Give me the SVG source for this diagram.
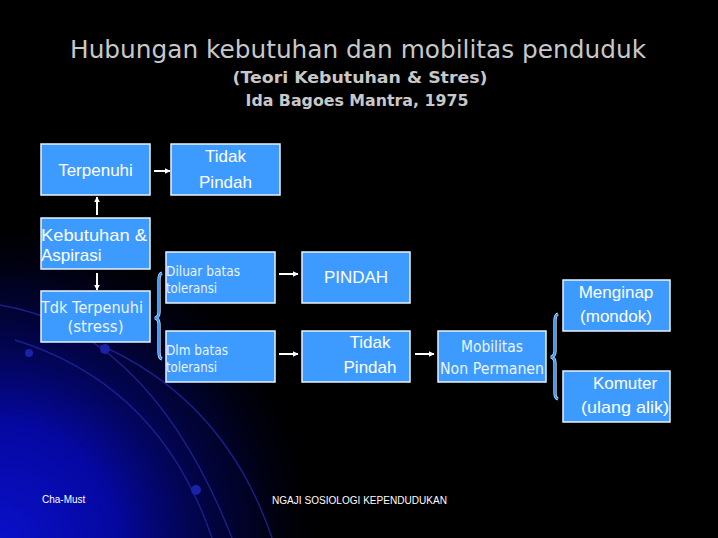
<svg xmlns="http://www.w3.org/2000/svg" width="718" height="538" viewBox="0 0 718 538">
<defs>
<radialGradient id="glow" cx="0" cy="538" r="330" gradientUnits="userSpaceOnUse">
<stop offset="0" stop-color="#0a10c8"/>
<stop offset="0.35" stop-color="#0508a0"/>
<stop offset="0.75" stop-color="#020440" stop-opacity="0.6"/>
<stop offset="1" stop-color="#000000" stop-opacity="0"/>
</radialGradient>
<marker id="ah" viewBox="0 0 10 10" refX="9" refY="5" markerWidth="6" markerHeight="6" orient="auto" markerUnits="userSpaceOnUse">
<path d="M0,0 L10,5 L0,10 z" fill="#ffffff"/>
</marker>
</defs>
<style>
.box{fill:#3d9bff;stroke:#e8f2ff;stroke-width:1.5}
.t{font-family:"Liberation Sans","DejaVu Sans",sans-serif;fill:#ffffff}
.tl{font-family:"DejaVu Sans","Liberation Sans",sans-serif;fill:#eaf4ff}
.hd{font-family:"DejaVu Sans","Liberation Sans",sans-serif;fill:#c8c8c8}
.arc{fill:none;stroke:#1a1f8a;stroke-width:1.4}
.con{stroke:#ffffff;stroke-width:2;fill:none;marker-end:url(#ah)}
.brace{fill:none;stroke:#3d9bff;stroke-width:2}
.braceo{fill:none;stroke:#e8f2ff;stroke-width:3.2}
.foot{font-family:"Liberation Sans",sans-serif;fill:#ffffff;font-size:10px}
</style>
<rect width="718" height="538" fill="#000000"/>
<rect width="718" height="538" fill="url(#glow)"/>
<path class="arc" d="M0 305 Q150 330 232 538"/>
<path class="arc" d="M15 340 Q160 385 212 538"/>
<path class="arc" d="M100 345 Q225 400 272 538"/>
<circle cx="29" cy="353" r="4" fill="#1a22a8"/>
<circle cx="105" cy="349" r="5" fill="#1a22a8"/>
<circle cx="196" cy="490" r="5" fill="#1a22a8"/>

<text class="hd" x="358" y="58" font-size="25" text-anchor="middle" textLength="576" lengthAdjust="spacingAndGlyphs">Hubungan kebutuhan dan mobilitas  penduduk</text>
<text class="hd" x="360" y="83" font-size="16" font-weight="bold" text-anchor="middle" textLength="255" lengthAdjust="spacingAndGlyphs">(Teori Kebutuhan &amp; Stres)</text>
<text class="hd" x="357" y="106" font-size="16" font-weight="bold" text-anchor="middle" textLength="223" lengthAdjust="spacingAndGlyphs">Ida Bagoes Mantra, 1975</text>

<g id="connectors">
<line class="con" x1="154" y1="171" x2="170" y2="171"/>
<line class="con" x1="97" y1="215" x2="97" y2="197"/>
<line class="con" x1="97" y1="273" x2="97" y2="290"/>
<line class="con" x1="279" y1="274" x2="298" y2="274"/>
<line class="con" x1="279" y1="354" x2="298" y2="354"/>
<line class="con" x1="415" y1="354" x2="434" y2="354"/>
<path class="braceo" d="M162 273 Q159 274 159 280 L159 312 Q159 317 155 318 Q159 319 159 324 L159 352 Q159 358 162 359"/>
<path class="brace" d="M162 273 Q159 274 159 280 L159 312 Q159 317 155 318 Q159 319 159 324 L159 352 Q159 358 162 359"/>
<path class="braceo" d="M558 314 Q555 315 555 321 L555 351 Q555 356 551 357 Q555 358 555 363 L555 393 Q555 398 558 399"/>
<path class="brace" d="M558 314 Q555 315 555 321 L555 351 Q555 356 551 357 Q555 358 555 363 L555 393 Q555 398 558 399"/>
</g>

<g id="terpenuhi"><rect class="box" x="41" y="144" width="109" height="51"/>
<text class="t" x="95.5" y="176" font-size="17" text-anchor="middle">Terpenuhi</text></g>
<g id="tidak-pindah-1"><rect class="box" x="171" y="144" width="109" height="51"/>
<text class="t" x="225.5" y="162" font-size="17" text-anchor="middle">Tidak</text>
<text class="t" x="225.5" y="188" font-size="17" text-anchor="middle">Pindah</text></g>
<g id="kebutuhan"><rect class="box" x="41" y="218" width="109" height="51"/>
<text class="t" x="41" y="241" font-size="17" textLength="106" lengthAdjust="spacingAndGlyphs">Kebutuhan &amp;</text>
<text class="t" x="41" y="261" font-size="17">Aspirasi</text></g>
<g id="tdk-terpenuhi"><rect class="box" x="41" y="291" width="109" height="51"/>
<text class="tl" x="41" y="313" font-size="15" textLength="102" lengthAdjust="spacingAndGlyphs">Tdk Terpenuhi</text>
<text class="tl" x="95.5" y="332" font-size="15" text-anchor="middle">(stress)</text></g>
<g id="diluar"><rect class="box" x="166" y="252" width="109" height="51"/>
<text class="tl" x="166" y="276" font-size="14" textLength="74" lengthAdjust="spacingAndGlyphs">Diluar batas</text>
<text class="tl" x="166" y="293" font-size="14" textLength="51" lengthAdjust="spacingAndGlyphs">toleransi</text></g>
<g id="dlm"><rect class="box" x="166" y="331" width="109" height="51"/>
<text class="tl" x="166" y="355" font-size="14" textLength="62" lengthAdjust="spacingAndGlyphs">Dlm batas</text>
<text class="tl" x="166" y="372" font-size="14" textLength="51" lengthAdjust="spacingAndGlyphs">toleransi</text></g>
<g id="pindah"><rect class="box" x="302" y="252" width="108" height="51"/>
<text class="t" x="356" y="283" font-size="17" text-anchor="middle">PINDAH</text></g>
<g id="tidak-pindah-2"><rect class="box" x="302" y="331" width="108" height="51"/>
<text class="t" x="370" y="348" font-size="17" text-anchor="middle">Tidak</text>
<text class="t" x="370" y="373" font-size="17" text-anchor="middle">Pindah</text></g>
<g id="mobilitas"><rect class="box" x="438" y="331" width="108" height="51"/>
<text class="tl" x="492" y="352" font-size="15" text-anchor="middle" textLength="62" lengthAdjust="spacingAndGlyphs">Mobilitas</text>
<text class="tl" x="492" y="374" font-size="15" text-anchor="middle" textLength="104" lengthAdjust="spacingAndGlyphs">Non Permanen</text></g>
<g id="menginap"><rect class="box" x="563" y="280" width="107" height="51"/>
<text class="t" x="616" y="298" font-size="17" text-anchor="middle">Menginap</text>
<text class="t" x="616" y="322" font-size="17" text-anchor="middle">(mondok)</text></g>
<g id="komuter"><rect class="box" x="563" y="371" width="107" height="51"/>
<text class="t" x="625" y="389" font-size="17" text-anchor="middle">Komuter</text>
<text class="t" x="625" y="413" font-size="17" text-anchor="middle" textLength="88" lengthAdjust="spacingAndGlyphs">(ulang alik)</text></g>

<text class="foot" x="42" y="503">Cha-Must</text>
<text class="foot" x="272" y="504" textLength="175" lengthAdjust="spacingAndGlyphs">NGAJI SOSIOLOGI KEPENDUDUKAN</text>
</svg>
